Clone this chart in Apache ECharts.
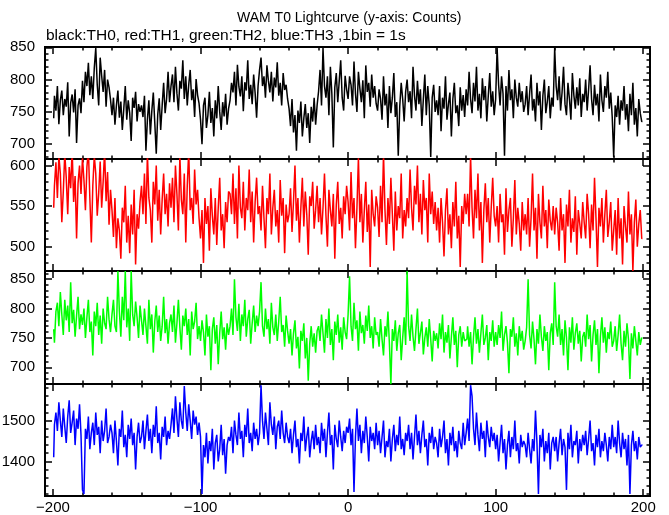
<!DOCTYPE html>
<html>
<head>
<meta charset="utf-8">
<script src="https://cdn.jsdelivr.net/npm/echarts@6/dist/echarts.min.js"></script>
<style>html,body{margin:0;padding:0;background:#fff}#c{width:669px;height:515px}</style>
</head>
<body>
<div id="c"></div>
<script>
// ---- data: counts per 1 s bin, bins centred from -199.5 s to 199.5 s ----
const th0 = [
740,775,752,790,731,768,783,745,770,758,796,712,764,777,749,785,702,760,771,748,
798,765,812,790,826,776,805,770,818,849,792,760,834,806,781,815,758,800,788,769,
745,772,730,760,783,741,766,722,755,790,738,768,748,705,772,756,781,735,762,750,
760,742,775,690,738,768,715,752,780,733,685,746,771,722,760,795,748,770,812,765,
790,808,765,820,779,752,798,786,830,770,805,760,792,815,768,785,742,801,776,763,
738,700,760,772,725,745,781,733,756,712,768,740,790,750,722,765,743,778,730,755,
768,795,780,812,760,823,789,774,805,751,796,783,830,770,792,762,808,779,741,790,
815,834,790,805,772,822,798,780,812,766,803,788,827,775,795,760,810,784,792,770,
755,728,770,718,745,690,752,733,766,712,740,762,725,748,702,758,735,772,730,760,
782,815,760,849,790,772,805,745,820,778,695,788,810,765,798,830,772,752,806,785,
770,805,792,760,828,778,750,812,786,765,799,740,822,781,795,758,808,772,790,763,
752,785,770,738,805,760,778,725,790,748,772,810,742,765,682,758,795,770,735,781,
800,765,782,740,820,775,752,798,762,785,728,770,808,745,790,760,680,772,792,750,
768,745,790,720,772,755,805,738,762,780,712,770,795,748,760,728,788,752,776,742,
785,760,812,770,748,795,766,820,752,778,740,802,768,790,735,775,810,758,782,745,
770,849,792,760,805,778,682,790,752,815,768,785,740,800,772,758,795,765,782,750,
762,790,745,778,808,752,770,735,795,760,782,722,775,800,748,766,790,740,772,758,
849,790,768,805,752,780,820,762,745,795,770,738,810,776,755,788,760,802,742,778,
765,800,752,785,822,770,745,792,760,778,735,808,768,750,790,772,812,755,780,742,
680,760,742,775,730,768,752,790,738,762,720,778,745,795,730,756,712,770,748,735
];
const th1 = [
548,575,604,560,612,590,530,568,615,585,540,598,572,620,555,587,510,578,600,565,
610,582,545,598,620,560,505,575,612,590,538,566,605,548,580,618,556,592,527,570,
545,512,560,498,535,520,485,548,530,575,505,538,492,552,515,570,478,540,522,555,
575,540,590,528,615,560,545,505,580,552,600,532,570,515,558,590,540,565,525,578,
548,585,530,600,565,520,612,558,540,590,505,575,618,545,560,528,595,552,570,535,
510,545,480,560,528,550,495,572,538,515,560,502,548,585,520,540,498,555,530,568,
565,540,590,528,572,510,600,548,535,580,520,560,545,595,530,568,505,555,585,540,
550,520,575,535,498,560,540,590,515,548,570,525,545,505,582,538,560,492,552,530,
540,572,518,555,600,532,560,505,548,585,525,568,540,490,562,550,580,522,545,575,
530,560,515,548,590,538,500,570,545,525,565,485,552,580,528,548,510,562,540,575,
555,520,592,535,560,498,548,610,530,565,505,545,580,518,552,475,570,540,525,562,
548,512,575,530,615,545,502,560,528,585,540,495,568,520,550,535,590,510,545,525,
560,535,595,548,520,575,552,600,530,565,515,582,545,560,505,590,540,568,528,555,
520,548,505,560,530,488,545,572,515,540,498,555,525,580,510,538,475,550,528,565,
540,565,525,612,548,510,570,535,590,520,555,480,545,578,530,560,505,548,585,538,
525,550,505,565,530,540,490,572,518,545,560,500,535,582,515,548,528,495,555,520,
540,515,560,500,535,590,520,548,485,565,530,510,575,525,545,498,558,532,520,550,
515,548,530,495,560,520,540,480,552,525,570,505,535,518,562,490,545,528,510,555,
530,510,565,540,498,552,520,585,535,475,548,525,560,505,540,570,512,530,555,495,
520,545,490,560,510,535,478,550,525,505,568,515,540,470,530,558,500,528,545,510
];
const th2 = [
765,742,795,810,770,828,790,755,815,780,805,760,845,775,798,752,788,820,765,790,
772,800,750,785,815,760,778,720,795,770,810,755,788,740,800,775,765,820,782,760,
790,815,770,760,864,795,752,820,780,864,768,800,745,864,790,770,812,785,750,805,
780,755,800,770,740,815,765,790,725,778,805,760,788,745,770,820,758,782,740,775,
790,760,805,742,775,815,768,730,788,770,800,755,782,720,795,765,778,810,748,770,
745,780,760,720,790,752,770,695,765,785,740,772,705,758,795,748,768,730,775,755,
770,800,755,850,785,762,808,745,790,770,815,752,782,798,740,775,805,760,788,770,
795,845,770,752,800,765,782,740,810,768,755,790,745,778,820,760,772,735,788,762,
740,765,720,758,780,732,752,698,762,745,775,715,750,677,740,770,735,758,725,762,
770,745,790,758,725,782,750,800,738,765,712,778,755,790,742,768,730,785,760,748,
790,855,770,745,810,765,780,728,795,758,772,740,788,762,805,750,770,732,785,755,
760,735,782,748,720,770,752,795,740,671,765,745,780,728,758,772,712,750,785,738,
864,770,745,790,752,728,765,800,740,758,778,722,750,768,735,782,748,710,762,745,
758,732,775,748,790,725,760,742,772,715,752,785,738,762,700,755,770,735,760,745,
748,770,735,760,705,752,785,740,765,725,758,790,738,750,772,712,760,745,780,735,
760,738,772,750,795,728,755,770,742,690,765,752,785,735,758,720,770,745,762,730,
745,768,850,755,732,778,748,705,765,740,790,752,728,770,745,760,695,758,775,738,
845,770,752,790,738,765,720,780,750,695,768,742,785,730,758,775,740,762,710,752,
760,735,790,748,772,710,755,780,738,765,690,752,785,742,768,725,760,748,778,735,
745,770,728,755,790,740,712,762,735,775,748,680,758,732,770,745,720,760,738,750
];
const th3 = [
1410,1490,1520,1475,1545,1500,1460,1530,1485,1445,1510,1550,1470,1495,1525,1440,1505,1480,1540,1465,
1330,1320,1480,1455,1510,1430,1470,1495,1440,1520,1465,1485,1420,1500,1450,1475,1530,1445,1460,1490,
1470,1420,1500,1450,1390,1480,1460,1525,1435,1465,1410,1490,1455,1505,1440,1470,1380,1460,1495,1445,
1460,1500,1430,1475,1515,1450,1480,1420,1490,1460,1535,1445,1470,1405,1485,1460,1510,1440,1475,1455,
1490,1530,1470,1560,1505,1460,1545,1500,1480,1585,1520,1475,1540,1500,1455,1525,1490,1510,1465,1495,
1460,1320,1440,1410,1470,1395,1450,1425,1480,1380,1445,1465,1400,1430,1490,1415,1455,1370,1440,1460,
1450,1485,1420,1500,1465,1440,1520,1455,1475,1410,1490,1460,1530,1445,1470,1425,1495,1455,1480,1440,
1470,1587,1500,1455,1520,1480,1440,1545,1490,1465,1510,1430,1485,1500,1455,1525,1470,1445,1495,1460,
1445,1480,1420,1465,1500,1435,1455,1395,1470,1450,1510,1425,1460,1485,1410,1450,1475,1430,1490,1440,
1460,1420,1495,1450,1480,1410,1470,1520,1440,1465,1380,1490,1455,1435,1500,1460,1425,1475,1445,1485,
1470,1505,1440,1480,1325,1460,1530,1450,1490,1420,1475,1445,1510,1460,1400,1485,1450,1470,1430,1495,
1440,1475,1420,1460,1500,1410,1450,1435,1480,1400,1455,1490,1425,1465,1440,1510,1430,1455,1415,1470,
1450,1490,1430,1470,1405,1460,1515,1440,1475,1420,1465,1500,1435,1455,1390,1470,1445,1485,1430,1460,
1445,1410,1480,1435,1460,1500,1420,1455,1390,1470,1440,1485,1425,1450,1410,1475,1445,1430,1495,1440,
1470,1505,1450,1587,1560,1480,1440,1520,1465,1425,1495,1455,1475,1410,1500,1460,1435,1485,1450,1470,
1430,1465,1400,1445,1490,1420,1455,1380,1440,1475,1410,1460,1430,1500,1425,1445,1395,1465,1435,1450,
1440,1410,1470,1430,1395,1455,1425,1525,1445,1320,1465,1435,1480,1400,1450,1420,1470,1380,1445,1460,
1425,1460,1400,1445,1480,1415,1455,1435,1330,1470,1430,1490,1410,1450,1440,1475,1395,1455,1425,1465,
1440,1475,1415,1455,1500,1425,1445,1390,1465,1435,1480,1410,1450,1425,1470,1440,1400,1460,1430,1490,
1435,1460,1420,1500,1445,1410,1470,1430,1455,1390,1465,1320,1440,1475,1425,1450,1405,1460,1435,1440
];
const binStart = -199.5;   // centre of first 1 s bin
const xMajor = [-200, -100, 0, 100, 200];
const xMinor = [-200,-180,-160,-140,-120,-100,-80,-60,-40,-20,0,20,40,60,80,100,120,140,160,180,200];
const yMajor = [
  [700, 750, 800, 850],
  [500, 550, 600],
  [700, 750, 800, 850],
  [1400, 1500]
];
const yMinor = [
  [680,690,700,710,720,730,740,750,760,770,780,790,800,810,820,830,840,850],
  [470,480,490,500,510,520,530,540,550,560,570,580,590,600],
  [680,690,700,710,720,730,740,750,760,770,780,790,800,810,820,830,840,850,860],
  [1320,1340,1360,1380,1400,1420,1440,1460,1480,1500,1520,1540,1560,1580]
];
const titleText = 'WAM T0 Lightcurve (y-axis: Counts)';
const subText = 'black:TH0, red:TH1, green:TH2, blue:TH3 ,1bin = 1s';

// ---- layout / styling ----
const series = [th0, th1, th2, th3];
const colors = ['#000000', '#ff0000', '#00ff00', '#0000ff'];
const yRange = [[677, 850.5], [470, 608], [671.5, 864], [1315, 1590]];
const tops = [47, 159, 271, 384];
const heights = [112, 112, 113, 112];
const XMIN = -205.4, XMAX = 204.6;
const FONT = '"Liberation Sans", Arial, Helvetica, sans-serif';

const grids = [], xAxes = [], yAxes = [], ser = [];
function tick(vals, len) {
  return {show: true, inside: true, length: len, customValues: vals,
          lineStyle: {color: '#000', width: 1.5}};
}
for (let g = 0; g < 4; g++) {
  grids.push({left: 45, right: 19, top: tops[g], height: heights[g], show: true,
              containLabel: false, outerBoundsMode: 'none',
              borderColor: '#000', borderWidth: 2, backgroundColor: 'transparent'});
  const xs = [
    {pos: 'bottom', vals: xMajor, len: 7, lab: g === 3},
    {pos: 'bottom', vals: xMinor, len: 3.5, lab: false},
    {pos: 'top', vals: xMajor, len: 7, lab: false},
    {pos: 'top', vals: xMinor, len: 3.5, lab: false}
  ];
  xs.forEach(a => xAxes.push({
    type: 'value', gridIndex: g, min: XMIN, max: XMAX, position: a.pos,
    axisLine: {show: false, onZero: false}, splitLine: {show: false},
    axisTick: tick(a.vals, a.len),
    axisLabel: {show: a.lab, customValues: xMajor, color: '#000', fontSize: 15,
                fontFamily: FONT, margin: 4,
                formatter: v => (v < 0 ? '\u2212' + (-v) : String(v))}
  }));
  const ys = [
    {pos: 'left', vals: yMajor[g], len: 7, lab: true},
    {pos: 'left', vals: yMinor[g], len: 3.5, lab: false},
    {pos: 'right', vals: yMajor[g], len: 7, lab: false},
    {pos: 'right', vals: yMinor[g], len: 3.5, lab: false}
  ];
  ys.forEach(a => yAxes.push({
    type: 'value', gridIndex: g, min: yRange[g][0], max: yRange[g][1], position: a.pos,
    axisLine: {show: false, onZero: false}, splitLine: {show: false},
    axisTick: tick(a.vals, a.len),
    axisLabel: {show: a.lab, customValues: yMajor[g], color: '#000', fontSize: 15,
                fontFamily: FONT, margin: 10, hideOverlap: false,
                formatter: v => String(v)}
  }));
  ser.push({
    type: 'line', xAxisIndex: 4 * g, yAxisIndex: 4 * g, step: 'middle',
    showSymbol: false, symbol: 'none', clip: true, silent: true,
    lineStyle: {color: colors[g], width: 1.5},
    data: series[g].map((v, i) => [binStart + i, v])
  });
}

const chart = echarts.init(document.getElementById('c'), null, {renderer: 'canvas'});
chart.setOption({
  animation: false,
  backgroundColor: '#fff',
  title: [
    {text: titleText, left: 232, top: 6,
     textStyle: {fontSize: 14, fontWeight: 'normal', color: '#000', fontFamily: FONT}},
    {text: subText, left: 41, top: 23,
     textStyle: {fontSize: 15.5, fontWeight: 'normal', color: '#000', fontFamily: FONT}}
  ],
  grid: grids,
  xAxis: xAxes,
  yAxis: yAxes,
  series: ser
});
</script>
</body>
</html>
